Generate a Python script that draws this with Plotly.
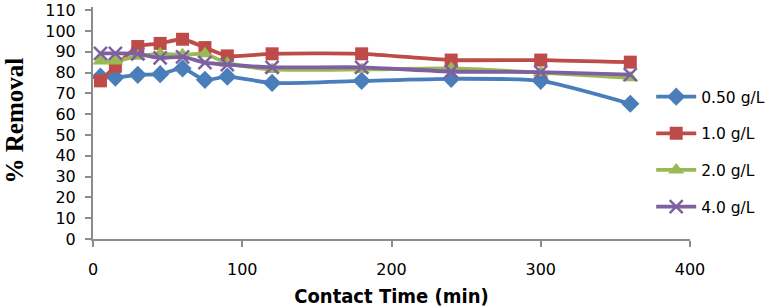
import plotly.graph_objects as go

time_min = [5, 15, 30, 45, 60, 75, 90, 120, 180, 240, 300, 360]
r_050 = [78, 77.6, 78.9, 79.2, 82, 76.5, 78, 75, 76, 77, 76, 65]
r_10 = [76, 83, 92.5, 94, 96, 92, 88, 89, 89, 86, 86, 85]
r_20 = [85.5, 85.6, 87.8, 89, 88.5, 89, 84.5, 81.5, 81.5, 82, 80, 77.5]
r_40 = [89.2, 89.2, 89, 87, 87.5, 84.8, 83.8, 82.5, 82.5, 80.5, 80.2, 79]
y_ticks = [0, 10, 20, 30, 40, 50, 60, 70, 80, 90, 100, 110]
x_ticks = [0, 100, 200, 300, 400]

series = [
    ("0.50 g/L", r_050, "#4A7EBB", "diamond", 14),
    ("1.0 g/L", r_10, "#BE4B48", "square", 13),
    ("2.0 g/L", r_20, "#98B954", "triangle-up", 14),
    ("4.0 g/L", r_40, "#7D60A0", "x-thin", 13),
]

fig = go.Figure()
for i, (name, vals, col, sym, sz) in enumerate(series):
    marker = dict(symbol=sym, size=sz, color=col)
    if sym == "x-thin":
        marker["line"] = dict(color=col, width=2.5)
    fig.add_trace(go.Scatter(
        x=time_min, y=vals, name=name, mode="lines+markers",
        line=dict(color=col, width=3.8, shape="spline", smoothing=0.6),
        marker=marker, legendgroup=f"g{i}",
    ))

axis_col = "#8C8C8C"
fig.update_layout(
    width=784, height=308,
    margin=dict(l=93, r=94, t=7, b=69),
    paper_bgcolor="white", plot_bgcolor="white",
    font=dict(family="DejaVu Sans", size=16, color="black"),
    showlegend=True,
    legend=dict(x=0.935, y=0.685, xanchor="left", yanchor="top",
                font=dict(size=15.5), tracegroupgap=13.5,
                bgcolor="rgba(0,0,0,0)", itemwidth=40),
    xaxis=dict(range=[0, 400], tickvals=x_ticks, showgrid=False, zeroline=False,
               showline=True, linecolor=axis_col, linewidth=2,
               ticks="outside", ticklen=6, tickcolor=axis_col, tickwidth=1.5,
               ticklabelstandoff=9, automargin=False,
               title=dict(text="<b>Contact Time (min)</b>", standoff=12,
                          font=dict(family="DejaVu Sans Condensed", size=20))),
    yaxis=dict(range=[0, 111.5], tickvals=y_ticks, showgrid=False, zeroline=False,
               showline=True, linecolor=axis_col, linewidth=2,
               ticks="outside", ticklen=6, tickcolor=axis_col, tickwidth=1.5,
               ticklabelstandoff=6, automargin=False),
    annotations=[dict(text="<b>% Removal</b>", xref="paper", yref="paper",
                      x=-0.131, y=0.51, xanchor="center", yanchor="middle",
                      textangle=-90, showarrow=False,
                      font=dict(family="Liberation Serif", size=25, color="black"))],
)

fig.write_html("out.html")
